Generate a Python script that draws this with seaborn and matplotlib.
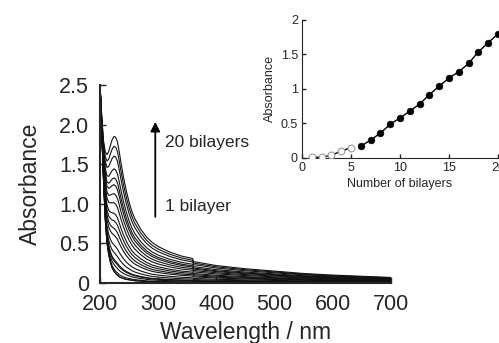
import numpy as np
import pandas as pd
import matplotlib
matplotlib.use("Agg")
import matplotlib.pyplot as plt
import seaborn as sns

# ---- data ----
wavelength = [200, 203, 206, 209, 212, 215, 218, 221, 224, 227, 230, 233, 236, 240,
              245, 250, 255, 260, 270, 280, 290, 300, 320, 340, 359, 361, 400, 450,
              500, 550, 600, 650, 700]
# spectrum of the 20-bilayer film
abs_20 = [2.50, 2.10, 1.80, 1.66, 1.62, 1.66, 1.74, 1.81, 1.85, 1.84, 1.78, 1.66, 1.52,
          1.35, 1.17, 1.02, 0.90, 0.81, 0.68, 0.58, 0.51, 0.46, 0.39, 0.34, 0.31, 0.27,
          0.22, 0.18, 0.15, 0.12, 0.10, 0.085, 0.07]
# substrate contribution (common to all films)
substrate = [2.50, 1.90, 1.30, 0.80, 0.50, 0.35, 0.25, 0.18, 0.14, 0.11, 0.09, 0.07, 0.06,
             0.05, 0.04, 0.035, 0.03, 0.025, 0.02, 0.015, 0.01, 0.01, 0.008, 0.006, 0.005,
             0.005, 0.004, 0.004, 0.003, 0.003, 0.003, 0.003, 0.003]

# inset: absorbance at peak vs number of bilayers
bilayers_open = [1, 2, 3, 4, 5]
abs_open = [0.01, 0.01, 0.04, 0.10, 0.15]
bilayers_filled = [6, 7, 8, 9, 10, 11, 12, 13, 14, 15, 16, 17, 18, 19, 20]
abs_filled = [0.17, 0.26, 0.36, 0.49, 0.58, 0.68, 0.78, 0.92, 1.04, 1.16, 1.25, 1.37,
              1.54, 1.67, 1.80]

main_yticks = [0, 0.5, 1.0, 1.5, 2.0, 2.5]
main_ylabels = ["0", "0.5", "1.0", "1.5", "2.0", "2.5"]
main_xticks = [200, 300, 400, 500, 600, 700]
inset_yticks = [0, 0.5, 1, 1.5, 2]
inset_ylabels = ["0", "0.5", "1", "1.5", "2"]
inset_xticks = [0, 5, 10, 15, 20]

# ---- build long-form table of spectra ----
all_n = bilayers_open + bilayers_filled
all_abs = abs_open + abs_filled
wl = np.array(wavelength, float)
top = np.array(abs_20)
sub = np.array(substrate)
rows = []
for n, a in zip(all_n, all_abs):
    r = a / abs_filled[-1]
    spec = sub + (top - sub) * r
    for w, v in zip(wl, spec):
        rows.append((n, w, v))
df = pd.DataFrame(rows, columns=["layers", "wl", "A"])

sns.set_style("ticks")
plt.rcParams['font.family'] = ['Liberation Sans', 'DejaVu Sans']

fig = plt.figure(figsize=(4.99, 3.43), dpi=100)
ax = fig.add_axes([0.2004, 0.1749, 0.5832, 0.5773])
sns.lineplot(data=df, x="wl", y="A", hue="layers", palette=["#111111"] * len(all_n),
             legend=False, ax=ax, linewidth=0.8, sort=False)
ax.set_xlim(200, 700)
ax.set_ylim(0, 2.5)
ax.set_xticks(main_xticks)
ax.set_yticks(main_yticks)
ax.set_yticklabels(main_ylabels)
ax.tick_params(direction="in", length=4, width=1, labelsize=15.5, pad=8)
ax.set_xlabel("Wavelength / nm", fontsize=16.5, labelpad=4)
ax.set_ylabel("Absorbance", fontsize=16.5, labelpad=12)
for s in ["top", "right"]:
    ax.spines[s].set_visible(False)
for s in ["left", "bottom"]:
    ax.spines[s].set_linewidth(1.5)

# arrow and labels
ax.annotate("", xy=(295, 2.07), xytext=(295, 0.8),
            arrowprops=dict(arrowstyle="-|>", color="black", lw=1.3, mutation_scale=14))
ax.text(312, 1.78, "20 bilayers", fontsize=12.5, va="center", ha="left")
ax.text(312, 0.97, "1 bilayer", fontsize=12.5, va="center", ha="left")

# ---- inset ----
ins = fig.add_axes([0.6052, 0.5394, 0.3928, 0.4023])
sns.lineplot(x=bilayers_open, y=abs_open, ax=ins, color="black", linewidth=1.0)
sns.lineplot(x=bilayers_filled, y=abs_filled, ax=ins, color="black", linewidth=1.0)
sns.scatterplot(x=bilayers_open, y=abs_open, ax=ins, s=24, facecolor="white",
                edgecolor="#999999", linewidth=0.8, zorder=3)
sns.scatterplot(x=bilayers_filled, y=abs_filled, ax=ins, s=24, color="black",
                edgecolor="black", zorder=3)
ins.set_xlim(0, 20)
ins.set_ylim(0, 2)
ins.set_xticks(inset_xticks)
ins.set_yticks(inset_yticks)
ins.set_yticklabels(inset_ylabels)
ins.tick_params(direction="in", length=3, width=1, labelsize=9, pad=3)
ins.set_xlabel("Number of bilayers", fontsize=9, labelpad=3)
ins.set_ylabel("Absorbance", fontsize=9, labelpad=3)
for s in ["top", "right"]:
    ins.spines[s].set_visible(False)
ins.patch.set_alpha(0)

fig.savefig("out.png", dpi=100)
